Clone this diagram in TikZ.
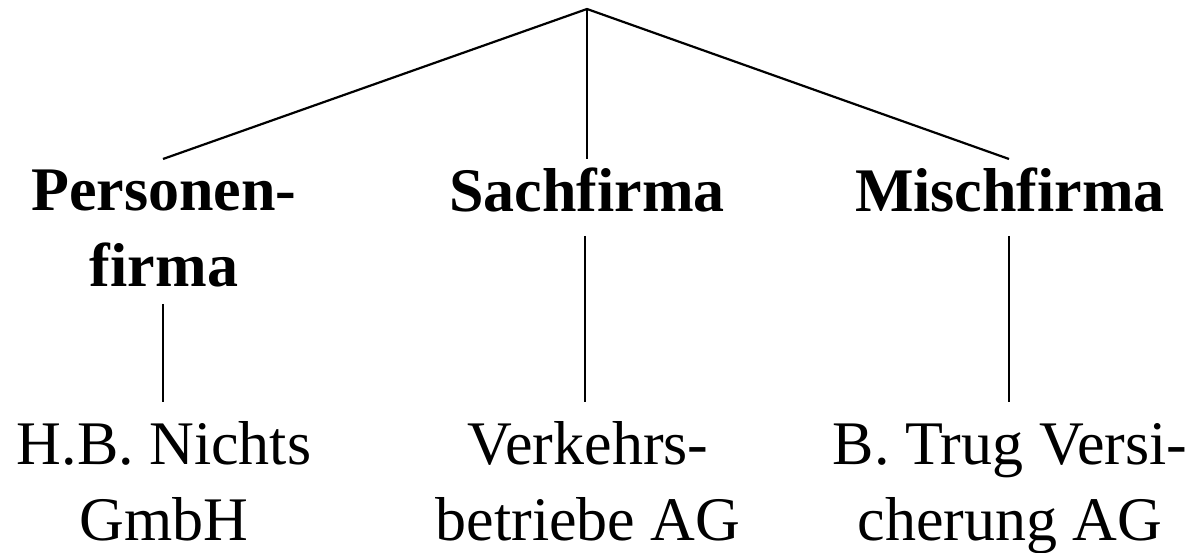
\documentclass[tikz,border=0pt]{standalone}
\usepackage{fontspec}
\setmainfont{Liberation Serif}
\begin{document}
\begin{tikzpicture}[x=1pt,y=1pt,
  every node/.style={inner sep=0pt, outer sep=0pt, align=center,
    font=\fontsize{62}{76}\selectfont},
  kind/.style={font=\fontsize{62}{76}\selectfont\bfseries},
  example/.style={},
  link/.style={line width=2.2pt, line cap=butt}]
\useasboundingbox (0,0) rectangle (1200,552);

% root of the tree
\coordinate (root) at (587,543);

% kinds of company names (base = baseline of the last line)
\node[kind, anchor=base] (pers) at (164,265) {Personen-\\firma};
\node[kind, anchor=base] (sach) at (587,340) {Sachfirma};
\node[kind, anchor=base] (misch) at (1010,340) {Mischfirma};

% examples
\node[example, anchor=base] (expers) at (164,12) {H.B. Nichts\\GmbH};
\node[example, anchor=base] (exsach) at (588,12) {Verkehrs-\\betriebe AG};
\node[example, anchor=base] (exmisch) at (1010,12) {B. Trug Versi-\\cherung AG};

% attachment points just outside the labels
\coordinate (persT) at (163,393);
\coordinate (sachT) at (587,393);
\coordinate (mischT) at (1009,393);
\coordinate (persB) at (163,248);
\coordinate (sachB) at (585,316);
\coordinate (mischB) at (1009,316);
\coordinate (exPersT) at (163,150);
\coordinate (exSachT) at (585,150);
\coordinate (exMischT) at (1009,150);

\draw[link] (persT) -- (root) -- (mischT);
\draw[link] (root) -- (sachT);
\draw[link] (persB) -- (exPersT);
\draw[link] (sachB) -- (exSachT);
\draw[link] (mischB) -- (exMischT);
\end{tikzpicture}
\end{document}
